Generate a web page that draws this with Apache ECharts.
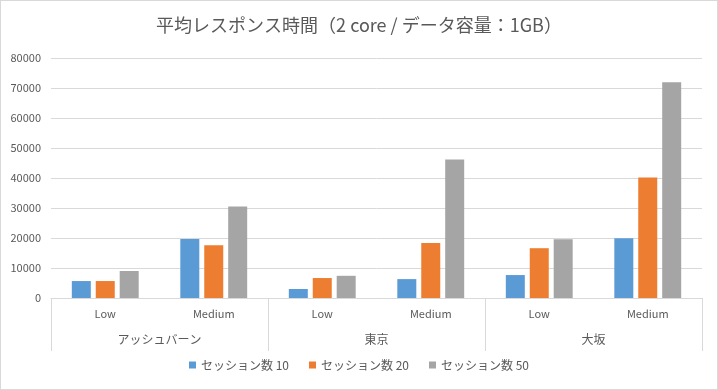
<!DOCTYPE html>
<html>
<head>
<meta charset="utf-8">
<script src="https://cdn.jsdelivr.net/npm/echarts@6/dist/echarts.min.js"></script>
<style>
html,body{margin:0;padding:0;background:#fff;}
#c{width:718px;height:390px;box-sizing:border-box;border:1px solid #d9d9d9;}
</style>
</head>
<body>
<div id="c"></div>
<script>
const titleText = '平均レスポンス時間（2 core / データ容量：1GB）';
const subCategories = ['Low', 'Medium', 'Low', 'Medium', 'Low', 'Medium'];
const groups = ['アッシュバーン', '東京', '大坂'];
const seriesNames = ['セッション数 10', 'セッション数 20', 'セッション数 50'];
const session10 = [5650, 19700, 3000, 6300, 7650, 19900];
const session20 = [5650, 17600, 6650, 18300, 16600, 40200];
const session50 = [9000, 30500, 7400, 46200, 19600, 71900];
const colors = ['#5B9BD5', '#ED7D31', '#A5A5A5'];

const font = '"Noto Sans CJK JP", "Noto Sans", sans-serif';
const chart = echarts.init(document.getElementById('c'), null, {renderer: 'canvas'});
const values = [session10, session20, session50];
chart.setOption({
  animation: false,
  color: colors,
  textStyle: {fontFamily: font},
  title: {
    text: titleText,
    left: 'center',
    top: 10,
    textStyle: {fontSize: 18, fontWeight: 'normal', color: '#595959', fontFamily: font}
  },
  legend: {
    data: seriesNames,
    bottom: 13,
    left: 'center',
    icon: 'rect',
    itemWidth: 7,
    itemHeight: 7,
    itemGap: 20,
    textStyle: {fontSize: 12, color: '#595959', fontFamily: font}
  },
  grid: {left: 50, right: 15, top: 57, bottom: 91, containLabel: false},
  xAxis: [
    {
      type: 'category',
      data: subCategories,
      axisLine: {lineStyle: {color: '#d9d9d9'}},
      axisTick: {show: false},
      axisLabel: {color: '#595959', fontSize: 11, margin: 10, fontFamily: font}
    },
    {
      type: 'category',
      data: groups,
      position: 'bottom',
      axisLine: {show: false},
      axisTick: {show: true, length: 53, lineStyle: {color: '#d9d9d9'}},
      axisLabel: {color: '#595959', fontSize: 12, margin: 35, fontFamily: font}
    }
  ],
  yAxis: {
    type: 'value',
    min: 0,
    max: 80000,
    interval: 10000,
    axisLine: {show: false},
    axisTick: {show: false},
    axisLabel: {color: '#595959', fontSize: 11, margin: 10, fontFamily: font, formatter: v => String(v)},
    splitLine: {lineStyle: {color: '#d9d9d9'}}
  },
  series: seriesNames.map((n, i) => ({
    name: n,
    type: 'bar',
    xAxisIndex: 0,
    data: values[i],
    barWidth: 19,
    barGap: '26%'
  }))
});
</script>
</body>
</html>
